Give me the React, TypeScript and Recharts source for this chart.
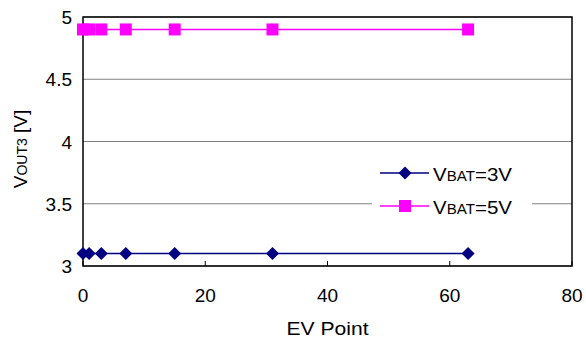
import React from 'react';
import { LineChart, Line, XAxis, YAxis, CartesianGrid, ReferenceArea, Legend } from 'recharts';

const evPoints = [0, 1, 3, 7, 15, 31, 63];
const vout3Bat3V = [3.1, 3.1, 3.1, 3.1, 3.1, 3.1, 3.1];
const vout3Bat5V = [4.9, 4.9, 4.9, 4.9, 4.9, 4.9, 4.9];
const xTicks = [0, 20, 40, 60, 80];
const yTicks = [3, 3.5, 4, 4.5, 5];

const data = evPoints.map((ev, i) => ({ ev, v3: vout3Bat3V[i], v5: vout3Bat5V[i] }));

const FONT = '"Liberation Sans", Arial, sans-serif';
const NAVY = '#000080';
const MAGENTA = '#FF00FF';

const Diamond = ({ cx, cy, size = 6.5, color = NAVY }: any) => (
  <path d={`M${cx},${cy - size}L${cx + size},${cy}L${cx},${cy + size}L${cx - size},${cy}Z`} fill={color} />
);
const Square = ({ cx, cy, size = 6, color = MAGENTA }: any) => (
  <rect x={cx - size} y={cy - size} width={size * 2} height={size * 2} fill={color} />
);

const XTick = ({ x, y, payload }: any) => (
  <g>
    <line x1={x} x2={x} y1={y} y2={y - 5} stroke="#000" strokeWidth={1} />
    <text x={x} y={y + 36} textAnchor="middle" fontSize={19} fontFamily={FONT} fill="#000">
      {payload.value}
    </text>
  </g>
);

const YTick = ({ x, y, payload }: any) => (
  <text x={x} y={y + 7} textAnchor="end" fontSize={19} fontFamily={FONT} fill="#000">
    {payload.value}
  </text>
);

const YTitle = () => (
  <text transform="translate(27,149) rotate(-90)" textAnchor="middle" fontSize={19} fontFamily={FONT} fill="#000">
    V<tspan fontSize={14}>OUT3</tspan> [V]
  </text>
);

const XTitle = () => (
  <text x={327.5} y={335} textAnchor="middle" fontSize={19} fontFamily={FONT} fill="#000" textLength={82} lengthAdjust="spacingAndGlyphs">
    EV Point
  </text>
);

const legendItems = [
  { label: '3V', color: NAVY, shape: 'diamond' },
  { label: '5V', color: MAGENTA, shape: 'square' },
];

const LegendBox = () => (
  <svg width={160} height={66} style={{ display: 'block', background: '#fff' }}>
    {legendItems.map((item, i) => {
      const cy = 16 + i * 33;
      return (
        <g key={item.label}>
          <line x1={8} x2={57} y1={cy} y2={cy} stroke={item.color} strokeWidth={1.5} />
          {item.shape === 'diamond' ? <Diamond cx={33} cy={cy} color={item.color} /> : <Square cx={33} cy={cy} color={item.color} />}
          <text x={61} y={cy + 8} fontSize={19} fontFamily={FONT} fill="#000" textLength={79} lengthAdjust="spacingAndGlyphs">
            V<tspan fontSize={14}>BAT</tspan>={item.label}
          </text>
        </g>
      );
    })}
  </svg>
);

export default function App() {
  return (
    <div style={{ position: 'absolute', left: 0, top: 0, background: '#fff' }}>
      <LineChart width={586} height={338} data={data} margin={{ top: 17, right: 14, bottom: 0, left: 0 }}>
        <CartesianGrid vertical={false} stroke="#808080" strokeWidth={1} />
        <XAxis
          type="number"
          dataKey="ev"
          domain={[0, 80]}
          ticks={xTicks}
          height={72}
          axisLine={false}
          tickLine={false}
          tickSize={0}
          tickMargin={0}
          tick={<XTick />}
          label={{ content: () => <XTitle /> }}
        />
        <YAxis
          type="number"
          domain={[3, 5]}
          ticks={yTicks}
          width={83}
          axisLine={false}
          tickLine={false}
          tickSize={0}
          tickMargin={11}
          tick={<YTick />}
          label={{ content: () => <YTitle /> }}
        />
        <ReferenceArea x1={0} x2={80} y1={3} y2={5} fill="none" stroke="#000" strokeWidth={1.5} ifOverflow="visible" />
        <Line
          dataKey="v3"
          name="VBAT=3V"
          stroke={NAVY}
          strokeWidth={1.5}
          isAnimationActive={false}
          dot={(p: any) => <Diamond key={`d${p.index}`} cx={p.cx} cy={p.cy} />}
        />
        <Line
          dataKey="v5"
          name="VBAT=5V"
          stroke={MAGENTA}
          strokeWidth={1.5}
          isAnimationActive={false}
          dot={(p: any) => <Square key={`s${p.index}`} cx={p.cx} cy={p.cy} />}
        />
        <Legend
          layout="vertical"
          align="center"
          verticalAlign="middle"
          content={() => <LegendBox />}
          wrapperStyle={{ position: 'absolute', left: 372, top: 157, width: 160, height: 66 }}
        />
      </LineChart>
    </div>
  );
}
